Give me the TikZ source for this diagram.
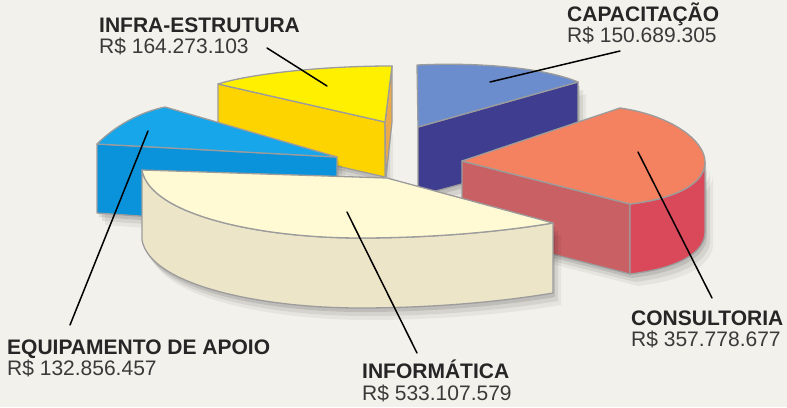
\documentclass[tikz,border=0pt]{standalone}
\usepackage{fontspec}
\setmainfont{Liberation Sans}
\usetikzlibrary{shadows,calc}
\definecolor{bgPaper}{HTML}{F3F1EB}
\definecolor{edgeGray}{HTML}{9C9C9C}
\definecolor{labelInk}{HTML}{262626}
\definecolor{valueInk}{HTML}{3A3A3A}
\definecolor{infraTop}{HTML}{FFF000}
\definecolor{infraSide}{HTML}{FDD300}
\definecolor{infraEdge}{HTML}{EDAA48}
\definecolor{capacTop}{HTML}{6B8DCD}
\definecolor{capacSide}{HTML}{3E3D8F}
\definecolor{equipTop}{HTML}{16A6E9}
\definecolor{equipSide}{HTML}{0A92DA}
\definecolor{consTop}{HTML}{F4815F}
\definecolor{consSideL}{HTML}{C96064}
\definecolor{consSideR}{HTML}{D9495A}
\definecolor{infoTop}{HTML}{FFFAD3}
\definecolor{infoSide}{HTML}{EDE5C8}
\tikzset{
  sliceEdge/.style={draw=edgeGray, line width=1.3pt, line join=round},
  softShadow/.style={
    drop shadow={shadow xshift=2pt, shadow yshift=-4pt, opacity=.10, fill=black},
    drop shadow={shadow xshift=5pt, shadow yshift=-8pt, opacity=.07, fill=black},
    drop shadow={shadow xshift=8pt, shadow yshift=-12pt, opacity=.05, fill=black}
  },
  catLabel/.style={font=\fontsize{21}{22}\selectfont\bfseries, text=labelInk, inner sep=0pt, anchor=base west},
  valLabel/.style={font=\fontsize{21}{22}\selectfont, text=valueInk, inner sep=0pt, anchor=base west},
  leader/.style={draw=black, line width=1.5pt, line cap=round},
}
\begin{document}
\begin{tikzpicture}[x=1pt, y=-1pt]
\useasboundingbox (0,0) rectangle (787,407);
\fill[bgPaper] (0,0) rectangle (787,407);

% ===== Infra-estrutura (yellow, back) =====
\path[sliceEdge, fill=infraSide, softShadow] (218,84) -- (385,122) -- (385,177) -- (218,139) -- cycle;
\path[sliceEdge, fill=infraEdge] (392,66) -- (392,122) -- (386,177) -- (385,122) -- cycle;
\path[sliceEdge, fill=infraTop] (218,84) .. controls (250,74) and (320,66) .. (392,66) -- (385,122) -- cycle;

% ===== Capacitacao (blue-violet, back) =====
\path[sliceEdge, fill=capacSide, softShadow] (418,127) -- (578,82) -- (578,152) -- (418,196) -- cycle;
\path[sliceEdge, fill=capacTop] (417,65) .. controls (480,62) and (545,68) .. (578,82) -- (418,127) -- cycle;

% ===== Equipamento de apoio (cyan) =====
\path[sliceEdge, fill=equipSide, softShadow] (97,144) -- (337,157) -- (337,230) -- (97,213) -- cycle;
\path[sliceEdge, fill=equipTop] (97,144) .. controls (115,126) and (140,112) .. (165,107) -- (337,157) -- cycle;

% ===== Consultoria (red) =====
\path[sliceEdge, fill=consSideL, softShadow] (462,161) -- (630,204) -- (630,274) -- (462,231) -- cycle;
\path[sliceEdge, fill=consSideR, softShadow] (630,204) .. controls (680,198) and (705,182) .. (705,162)
  -- (705,232) .. controls (705,252) and (680,268) .. (630,274) -- cycle;
\path[sliceEdge, fill=consTop] (462,161) -- (620,108) .. controls (670,115) and (705,140) .. (705,162)
  .. controls (705,182) and (680,198) .. (630,204) -- cycle;

% ===== Informatica (cream, front) =====
\path[sliceEdge, fill=infoSide, softShadow] (142,170) .. controls (150,215) and (260,238) .. (360,238)
  .. controls (430,238) and (500,232) .. (553,223) -- (553,293)
  .. controls (500,302) and (430,308) .. (360,308) .. controls (260,308) and (150,285) .. (142,240) -- cycle;
\path[sliceEdge, fill=infoTop] (142,170) -- (387,178) -- (553,223) .. controls (500,232) and (430,238) .. (360,238)
  .. controls (260,238) and (150,215) .. (142,170) -- cycle;

% ===== Labels =====
\node[catLabel] (infraLbl) at (99,32) {INFRA-ESTRUTURA};
\node[valLabel] (infraVal) at ([yshift=-21.5pt]infraLbl.base west) {R\$ 164.273.103};
\node[catLabel] (capacLbl) at (567,21) {CAPACITAÇÃO};
\node[valLabel] (capacVal) at ([yshift=-21.5pt]capacLbl.base west) {R\$ 150.689.305};
\node[catLabel] (equipLbl) at (7,354) {EQUIPAMENTO DE APOIO};
\node[valLabel] (equipVal) at ([yshift=-21.5pt]equipLbl.base west) {R\$ 132.856.457};
\node[catLabel] (infoLbl) at (362,378) {INFORMÁTICA};
\node[valLabel] (infoVal) at ([yshift=-22.5pt]infoLbl.base west) {R\$ 533.107.579};
\node[catLabel] (consLbl) at (631,325) {CONSULTORIA};
\node[valLabel] (consVal) at ([yshift=-21.5pt]consLbl.base west) {R\$ 357.778.677};

% ===== Leader lines =====
\coordinate (infraTip) at (327,86);   \coordinate (infraEnd) at (267,48);
\coordinate (capacTip) at (490,82);   \coordinate (capacEnd) at (620,51);
\coordinate (equipTip) at (148,131);  \coordinate (equipEnd) at (70,325);
\coordinate (infoTip)  at (347,212);  \coordinate (infoEnd)  at (417,353);
\coordinate (consTip)  at (638,152);  \coordinate (consEnd)  at (712,298);
\foreach \s in {infra,capac,equip,info,cons} {
  \draw[leader] (\s Tip) -- (\s End);
}

\end{tikzpicture}
\end{document}
